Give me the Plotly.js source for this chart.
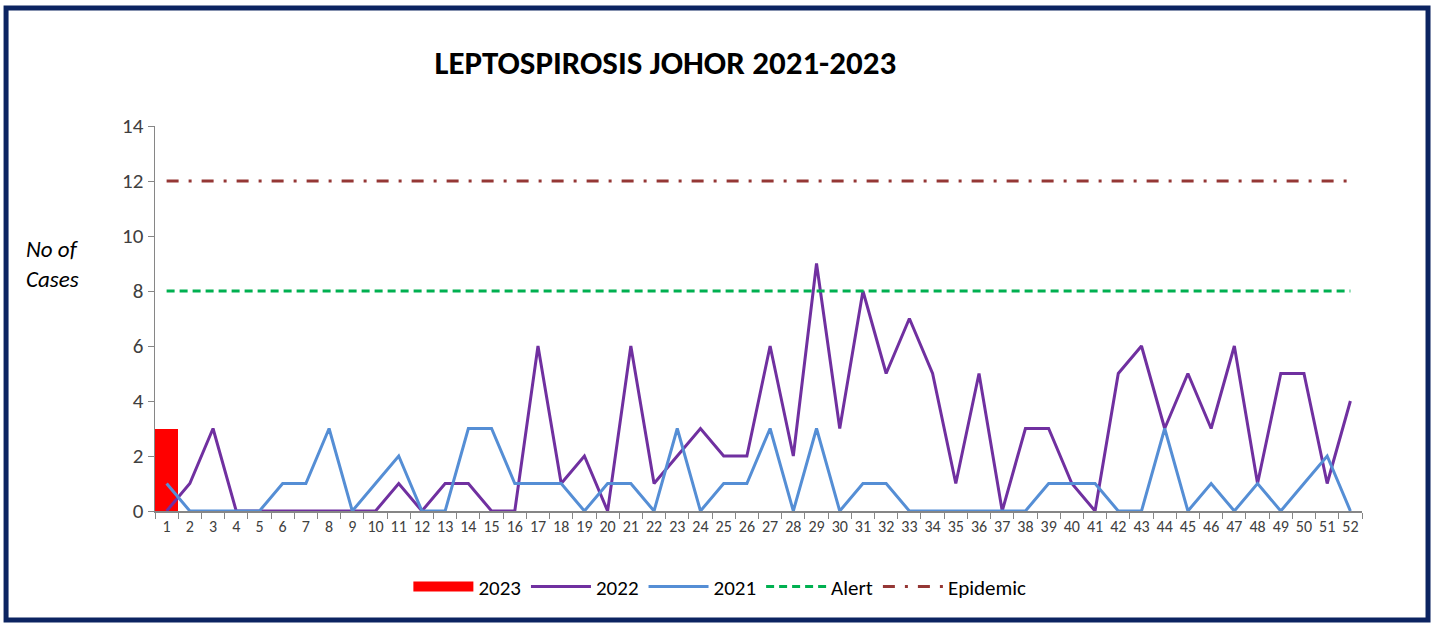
<!DOCTYPE html>
<html>
<head>
<meta charset="utf-8">
<script src="https://cdn.plot.ly/plotly-3.0.1.min.js"></script>
<style>
html,body{margin:0;padding:0;background:#fff;}
#chart{width:1437px;height:625px;}
</style>
</head>
<body>
<div id="chart"></div>
<script>
var weeks = ["1","2","3","4","5","6","7","8","9","10","11","12","13","14","15","16","17","18","19","20","21","22","23","24","25","26","27","28","29","30","31","32","33","34","35","36","37","38","39","40","41","42","43","44","45","46","47","48","49","50","51","52"];
var weeks2023 = ["1"];
var cases2023 = [3];
var cases2022 = [0,1,3,0,0,0,0,0,0,0,1,0,1,1,0,0,6,1,2,0,6,1,2,3,2,2,6,2,9,3,8,5,7,5,1,5,0,3,3,1,0,5,6,3,5,3,6,1,5,5,1,4];
var cases2021 = [1,0,0,0,0,1,1,3,0,1,2,0,0,3,3,1,1,1,0,1,1,0,3,0,1,1,3,0,3,0,1,1,0,0,0,0,0,0,1,1,1,0,0,3,0,1,0,1,0,1,2,0];
var alertLevel = [8,8,8,8,8,8,8,8,8,8,8,8,8,8,8,8,8,8,8,8,8,8,8,8,8,8,8,8,8,8,8,8,8,8,8,8,8,8,8,8,8,8,8,8,8,8,8,8,8,8,8,8];
var epidemicLevel = [12,12,12,12,12,12,12,12,12,12,12,12,12,12,12,12,12,12,12,12,12,12,12,12,12,12,12,12,12,12,12,12,12,12,12,12,12,12,12,12,12,12,12,12,12,12,12,12,12,12,12,12];
var yTicks = [0,2,4,6,8,10,12,14];

var FONT = "Carlito, 'Liberation Sans Narrow', 'Open Sans', sans-serif";

var traces = [
  {type:'bar', name:'2023', x:weeks2023, y:cases2023, marker:{color:'#FF0000'}, showlegend:false, legendgroup:'g2023'},
  {type:'scatter', mode:'lines', name:'2023', x:weeks2023, y:cases2023, line:{color:'#FF0000', width:20}, legendgroup:'g2023', hoverinfo:'skip'},
  {type:'scatter', mode:'lines', name:'2022', x:weeks, y:cases2022, line:{color:'#7030A0', width:3}},
  {type:'scatter', mode:'lines', name:'2021', x:weeks, y:cases2021, line:{color:'#558ED5', width:3}},
  {type:'scatter', mode:'lines', name:'Alert', x:weeks, y:alertLevel, line:{color:'#00B050', width:3, dash:'8px,5px'}},
  {type:'scatter', mode:'lines', name:'Epidemic', x:weeks, y:epidemicLevel, line:{color:'#953735', width:3, dash:'12px,10px,3px,10px'}}
];

var layout = {
  width:1437, height:625,
  margin:{l:155, r:75, t:126, b:114},
  paper_bgcolor:'#ffffff', plot_bgcolor:'#ffffff',
  font:{family:FONT, color:'#404040'},
  showlegend:true,
  bargap:0,
  title:{text:'<b>LEPTOSPIROSIS JOHOR 2021-2023</b>', font:{family:FONT, size:33, color:'#000000'},
         xref:'container', yref:'container', x:0.463, xanchor:'center', y:0.9, yanchor:'middle'},
  xaxis:{type:'category', categoryorder:'array', categoryarray:weeks,
         range:[-0.5,51.5], showline:true, linecolor:'#868686', linewidth:1.5,
         ticks:'outside', tickson:'boundaries', ticklen:6, tickcolor:'#868686',
         showgrid:false, zeroline:false, tickfont:{size:16, color:'#404040'}, tickangle:0},
  yaxis:{range:[0,14], tickmode:'array', tickvals:yTicks, showline:true, linecolor:'#868686', linewidth:1.5,
         ticks:'outside', ticklen:6, tickcolor:'#868686', showgrid:false, zeroline:false,
         tickfont:{size:21, color:'#404040'}},
  legend:{orientation:'h', x:0.468, xanchor:'center', y:-0.197, yanchor:'middle',
          font:{size:21, color:'#000000'}, itemwidth:60, tracegroupgap:0},
  annotations:[
    {text:'<i>No of<br>Cases</i>', xref:'paper', yref:'paper', x:-0.085, y:0.642, xanchor:'center', yanchor:'middle',
     showarrow:false, font:{family:FONT, size:23, color:'#000000'}, align:'left'}
  ],
  shapes:[
    {type:'rect', xref:'paper', yref:'paper', x0:-0.1234, x1:1.0547, y0:-0.2831, y1:1.3065,
     line:{color:'#0C2461', width:5}, fillcolor:'rgba(0,0,0,0)', layer:'above'}
  ]
};

Plotly.newPlot('chart', traces, layout, {displayModeBar:false, staticPlot:true});
</script>
</body>
</html>
